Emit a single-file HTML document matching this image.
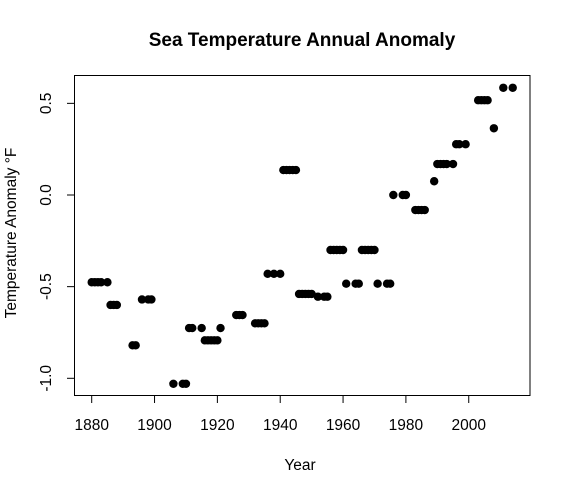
<!DOCTYPE html>
<html><head><meta charset="utf-8"><style>
body{margin:0;background:#fff;}
svg text{font-family:"Liberation Sans",Arial,sans-serif;fill:#000;}
</style></head><body>
<svg id="chart" width="568" height="483" xmlns="http://www.w3.org/2000/svg">
<rect width="568" height="483" fill="#fff"/>
<text x="302" y="46" font-size="19" font-weight="bold" text-anchor="middle">Sea Temperature Annual Anomaly</text>
<rect x="74.5" y="75.5" width="455.5" height="320" fill="none" stroke="#000" stroke-width="1"/>
<g id="xaxis"></g>
<g id="yaxis"></g>
<g id="points"></g>
<text x="300" y="470" font-size="15.5" text-anchor="middle">Year</text>
<text transform="translate(16,233) rotate(-90)" font-size="15.5" text-anchor="middle">Temperature Anomaly °F</text>
</svg>
<script>
const years = [1880,1881,1882,1883,1885,1886,1887,1888,1893,1894,1896,1898,1899,1906,1909,1910,1911,1912,1915,1921,1916,1917,1918,1919,1920,1926,1927,1928,1932,1933,1934,1935,1936,1938,1940,1941,1942,1943,1944,1945,1946,1947,1948,1949,1950,1952,1954,1955,1956,1957,1958,1959,1960,1961,1964,1965,1966,1967,1968,1969,1970,1971,1974,1975,1976,1979,1980,1983,1984,1985,1986,1989,1990,1991,1992,1993,1995,1996,1997,1999,2003,2004,2005,2006,2008,2011,2014];
const anomalies = [-0.476,-0.476,-0.476,-0.476,-0.476,-0.60,-0.60,-0.60,-0.82,-0.82,-0.57,-0.57,-0.57,-1.03,-1.03,-1.03,-0.726,-0.726,-0.726,-0.726,-0.793,-0.793,-0.793,-0.793,-0.793,-0.655,-0.655,-0.655,-0.70,-0.70,-0.70,-0.70,-0.43,-0.43,-0.43,0.136,0.136,0.136,0.136,0.136,-0.54,-0.54,-0.54,-0.54,-0.54,-0.555,-0.555,-0.555,-0.30,-0.30,-0.30,-0.30,-0.30,-0.484,-0.484,-0.484,-0.30,-0.30,-0.30,-0.30,-0.30,-0.484,-0.484,-0.484,0.0,0.0,0.0,-0.082,-0.082,-0.082,-0.082,0.075,0.169,0.169,0.169,0.169,0.169,0.277,0.277,0.277,0.517,0.517,0.517,0.517,0.364,0.585,0.585];
const xTicks = [1880,1900,1920,1940,1960,1980,2000];
const yTicks = [-1.0,-0.5,0.0,0.5];
const yTickLabels = ["-1.0","-0.5","0.0","0.5"];

const NS="http://www.w3.org/2000/svg";
const xS = v => 91.7 + (v-1880)*3.142;
const yS = v => 195 - v*183.3;
const xa=document.getElementById('xaxis'), ya=document.getElementById('yaxis'), pg=document.getElementById('points');
function mk(tag,attrs){const e=document.createElementNS(NS,tag);for(const k in attrs)e.setAttribute(k,attrs[k]);return e;}
let l=mk('line',{x1:xS(xTicks[0]),x2:xS(xTicks[xTicks.length-1]),y1:395.5,y2:395.5,stroke:'#000'});


xa.appendChild(l);
xTicks.forEach(t=>{
  const tk=mk('line',{x1:xS(t),x2:xS(t),y1:395.5,y2:403,stroke:'#000'});
  
  
  xa.appendChild(tk);
  const tx=mk('text',{x:xS(t),y:430,'font-size':15.5,'text-anchor':'middle'});
  tx.textContent=t;
  
  
  xa.appendChild(tx);
});
let yl=mk('line',{x1:74.5,x2:74.5,y1:yS(yTicks[0]),y2:yS(yTicks[yTicks.length-1]),stroke:'#000'});


ya.appendChild(yl);
yTicks.forEach((t,i)=>{
  const tk=mk('line',{x1:67,x2:74.5,y1:yS(t),y2:yS(t),stroke:'#000'});
  
  
  ya.appendChild(tk);
  const tx=mk('text',{transform:`translate(51,${yS(t)}) rotate(-90)`,'font-size':15.5,'text-anchor':'middle'});
  tx.textContent=yTickLabels[i];
  
  
  ya.appendChild(tx);
});
years.forEach((yr,i)=>{
  const c=mk('circle',{cx:xS(yr),cy:yS(anomalies[i]),r:4.2,fill:'#000'});
  
  
  pg.appendChild(c);
});
</script>
</body></html>
